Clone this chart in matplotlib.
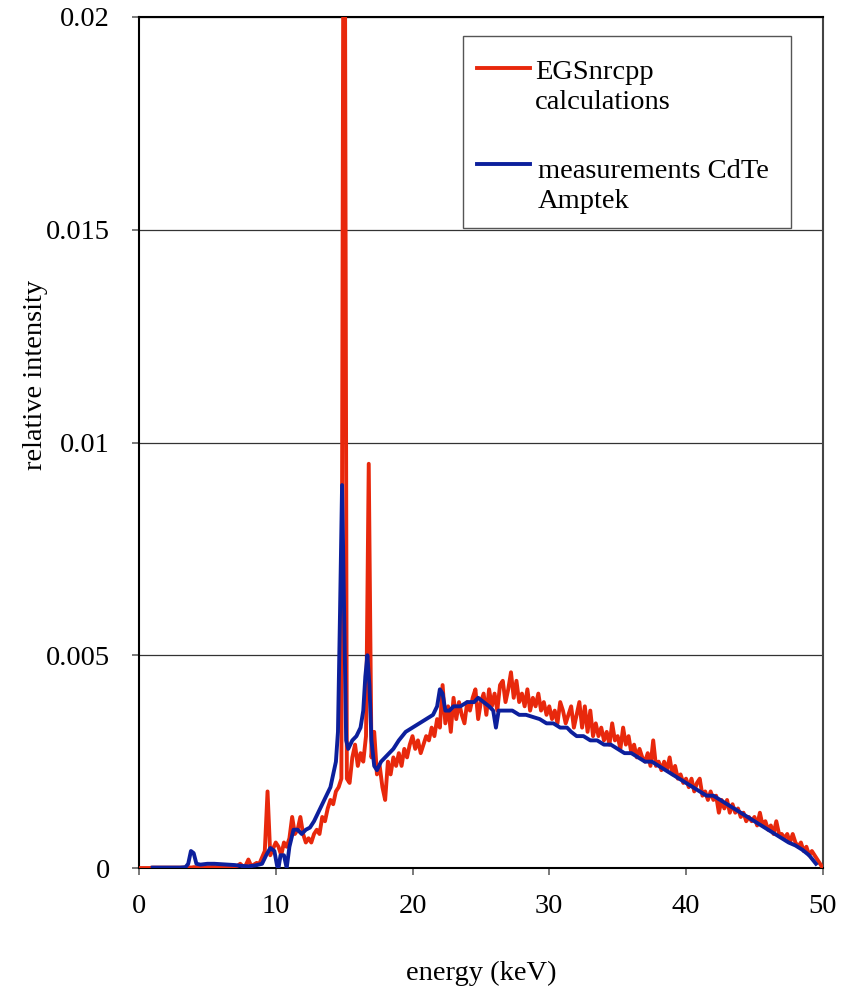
"""plot.py
--------
EGSnrcpp calculated spectrum vs. CdTe (Amptek) measurement
"""

import numpy as np
from matplotlib import pyplot as plt
from matplotlib.patches import Rectangle
from matplotlib.ticker import FixedLocator, FuncFormatter

plt.rcParams['font.family'] = ['Liberation Serif', 'DejaVu Serif']

# calculated spectrum, 0.2 keV channels from 0 to 50 keV (one row per keV)
calc_energy = np.round(np.arange(0, 50.01, 0.2), 1)
calc_intensity = [
    0, 0, 0, 0, 0,                                   # 0
    0.00001, 0.00001, 0.00001, 0.00001, 0.00001,     # 1
    0.00001, 0.00001, 0.00001, 0.00001, 0.00001,     # 2
    0.00001, 0.00001, 0.00001, 0.00002, 0.00001,     # 3
    0.00002, 0.00002, 0.00002, 0.00002, 0.00002,     # 4
    0.00002, 0.00002, 0.00003, 0.00002, 0.00003,     # 5
    0.00003, 0.00003, 0.00004, 0.00003, 0.00004,     # 6
    0.00003, 0.00005, 0.00010, 0.00004, 0.00006,     # 7
    0.00020, 0.00005, 0.00008, 0.00012, 0.00010,     # 8
    0.00025, 0.00040, 0.00180, 0.00030, 0.00045,     # 9
    0.00060, 0.00050, 0.00030, 0.00060, 0.00050,     # 10
    0.00070, 0.00120, 0.00080, 0.00090, 0.00120,     # 11
    0.00080, 0.00060, 0.00070, 0.00060, 0.00080,     # 12
    0.00090, 0.00080, 0.00120, 0.00110, 0.00140,     # 13
    0.00160, 0.00150, 0.00180, 0.00190, 0.00210,     # 14
    0.03000, 0.00210, 0.00200, 0.00260, 0.00290,     # 15
    0.00240, 0.00270, 0.00250, 0.00310, 0.00950,     # 16
    0.00260, 0.00320, 0.00220, 0.00240, 0.00190,     # 17
    0.00160, 0.00250, 0.00220, 0.00260, 0.00240,     # 18
    0.00270, 0.00240, 0.00280, 0.00260, 0.00290,     # 19
    0.00310, 0.00280, 0.00300, 0.00270, 0.00290,     # 20
    0.00310, 0.00300, 0.00330, 0.00310, 0.00350,     # 21
    0.00330, 0.00430, 0.00340, 0.00380, 0.00320,     # 22
    0.00400, 0.00350, 0.00390, 0.00360, 0.00340,     # 23
    0.00390, 0.00370, 0.00400, 0.00420, 0.00350,     # 24
    0.00390, 0.00410, 0.00360, 0.00420, 0.00380,     # 25
    0.00410, 0.00370, 0.00430, 0.00440, 0.00390,     # 26
    0.00420, 0.00460, 0.00400, 0.00440, 0.00390,     # 27
    0.00410, 0.00380, 0.00420, 0.00370, 0.00400,     # 28
    0.00380, 0.00410, 0.00370, 0.00390, 0.00360,     # 29
    0.00380, 0.00350, 0.00370, 0.00340, 0.00390,     # 30
    0.00370, 0.00340, 0.00360, 0.00380, 0.00330,     # 31
    0.00360, 0.00390, 0.00330, 0.00380, 0.00320,     # 32
    0.00370, 0.00310, 0.00340, 0.00310, 0.00330,     # 33
    0.00300, 0.00320, 0.00290, 0.00340, 0.00300,     # 34
    0.00310, 0.00280, 0.00330, 0.00290, 0.00310,     # 35
    0.00270, 0.00290, 0.00260, 0.00280, 0.00260,     # 36
    0.00250, 0.00270, 0.00240, 0.00300, 0.00240,     # 37
    0.00250, 0.00230, 0.00250, 0.00230, 0.00260,     # 38
    0.00220, 0.00240, 0.00210, 0.00220, 0.00200,     # 39
    0.00210, 0.00190, 0.00210, 0.00180, 0.00200,     # 40
    0.00210, 0.00170, 0.00180, 0.00160, 0.00180,     # 41
    0.00160, 0.00170, 0.00130, 0.00160, 0.00140,     # 42
    0.00160, 0.00130, 0.00150, 0.00130, 0.00140,     # 43
    0.00120, 0.00130, 0.00110, 0.00120, 0.00110,     # 44
    0.00120, 0.00100, 0.00130, 0.00100, 0.00110,     # 45
    0.00090, 0.00100, 0.00080, 0.00110, 0.00080,     # 46
    0.00080, 0.00070, 0.00080, 0.00060, 0.00080,     # 47
    0.00060, 0.00050, 0.00060, 0.00040, 0.00050,     # 48
    0.00030, 0.00040, 0.00030, 0.00020, 0.00010,     # 49
    0.0,                                             # 50
]

# measured spectrum (smooth), read at irregular energies
meas_energy = [
    1.0, 2.0, 3.0, 3.4, 3.6, 3.8, 4.0, 4.2, 4.5, 5.0, 5.5, 6.0, 6.5, 7.0,
    7.5, 8.0, 8.5, 9.0, 9.3, 9.6, 9.9, 10.1, 10.2, 10.35, 10.6, 10.8, 11.0,
    11.3, 11.6, 11.9, 12.2, 12.5, 12.8, 13.1, 13.4, 13.7, 14.0, 14.2, 14.4,
    14.55, 14.7, 14.85, 15.0, 15.15, 15.3, 15.6, 15.9, 16.2, 16.4, 16.55,
    16.7, 16.85, 17.0, 17.2, 17.4, 17.7, 18.0, 18.3, 18.6, 19.0, 19.5, 20.0,
    20.5, 21.0, 21.5, 21.8, 22.0, 22.2, 22.4, 22.7, 23.0, 23.5, 24.0, 24.5,
    24.8, 25.2, 25.6, 25.9, 26.1, 26.3, 26.8, 27.3, 27.8, 28.3, 28.8, 29.3,
    29.8, 30.3, 30.8, 31.3, 31.6, 32.0, 32.5, 33.0, 33.5, 34.0, 34.5, 35.0,
    35.5, 36.0, 36.5, 37.0, 37.5, 38.0, 38.5, 39.0, 39.5, 40.0, 40.5, 41.0,
    41.5, 42.0, 42.5, 43.0, 43.5, 44.0, 44.5, 45.0, 45.5, 46.0, 46.5, 47.0,
    47.5, 48.0, 48.5, 49.0, 49.5,
]
meas_intensity = [
    0.00001, 0.00001, 0.00001, 0.00002, 0.0001, 0.0004, 0.00035, 0.0001,
    0.00008, 0.0001, 0.0001, 0.00009, 0.00008, 0.00007, 0.00005, 0.00004,
    0.00006, 0.0001, 0.0003, 0.00047, 0.0004, 0.00005, 0.0, 0.0003, 0.0003,
    0.0, 0.0005, 0.0009, 0.0009, 0.0008, 0.0009, 0.00095, 0.0011, 0.0013,
    0.0015, 0.0017, 0.0019, 0.0022, 0.0025, 0.0032, 0.0060, 0.0090, 0.0060,
    0.0030, 0.0028, 0.0030, 0.0031, 0.0033, 0.0037, 0.0045, 0.0050, 0.0043,
    0.0030, 0.0024, 0.0023, 0.0025, 0.0026, 0.0027, 0.0028, 0.0030, 0.0032,
    0.0033, 0.0034, 0.0035, 0.0036, 0.0038, 0.0042, 0.0041, 0.0037, 0.0037,
    0.0038, 0.0038, 0.0039, 0.0039, 0.0040, 0.0039, 0.0038, 0.0037, 0.0033,
    0.0037, 0.0037, 0.0037, 0.0036, 0.0036, 0.00355, 0.0035, 0.0034, 0.0034,
    0.0033, 0.0033, 0.0032, 0.0031, 0.0031, 0.0030, 0.0030, 0.0029, 0.0029,
    0.0028, 0.0027, 0.0027, 0.0026, 0.0025, 0.0025, 0.0024, 0.0023, 0.0022,
    0.0021, 0.0020, 0.0019, 0.0018, 0.0017, 0.0017, 0.0016, 0.0015, 0.0014,
    0.0013, 0.0012, 0.0011, 0.0010, 0.0009, 0.0008, 0.0007, 0.0006, 0.00053,
    0.00043, 0.0003, 0.0001,
]

x_ticks = [0, 10, 20, 30, 40, 50]
y_ticks = [0, 0.005, 0.01, 0.015, 0.02]
calc_label = "EGSnrcpp\ncalculations"
meas_label = "measurements CdTe\nAmptek"

red = '#E8280C'
blue = '#0C1F9C'
fs = 20.5
lw = 2.8

fig = plt.figure(figsize=(8.5, 9.99), dpi=100)
ax = fig.add_axes([0.1635, 0.1311, 0.968 - 0.1635, 0.983 - 0.1311])

ax.plot(calc_energy, calc_intensity, color=red, lw=lw, zorder=3)
ax.plot(meas_energy, meas_intensity, color=blue, lw=lw, zorder=4)

ax.set_xlim(0, 50)
ax.set_ylim(0, 0.02)
ax.xaxis.set_major_locator(FixedLocator(x_ticks))
ax.yaxis.set_major_locator(FixedLocator(y_ticks))
ax.yaxis.set_major_formatter(FuncFormatter(lambda v, p: '%g' % v))
ax.yaxis.grid(True, color='#333333', lw=0.9)
ax.set_axisbelow(True)
ax.tick_params(axis='x', direction='out', length=5, width=1.1, color='#555555', pad=14, labelsize=fs)
ax.tick_params(axis='y', direction='out', length=5, width=1.1, color='#555555', pad=16, labelsize=fs)
for side in ['left', 'bottom', 'top']:
    ax.spines[side].set_linewidth(1.5)
    ax.spines[side].set_color('black')
ax.spines['right'].set_linewidth(1.5)
ax.spines['right'].set_color('#444444')

ax.set_xlabel("energy (keV)", fontsize=fs, va='top')
ax.xaxis.set_label_coords(0.5, -0.109)
ax.set_ylabel("relative intensity", fontsize=fs)
ax.yaxis.set_label_coords(-0.133, 0.579)

# legend box drawn by hand so handles sit on the first text line
ax.add_patch(Rectangle((0.4737, 0.7521), 0.4795, 0.2256, transform=ax.transAxes,
                       facecolor='white', edgecolor='#555555', lw=1.0, zorder=5))
ax.plot([0.494, 0.5716], [0.9401, 0.9401], transform=ax.transAxes, color=red, lw=lw, zorder=6)
ax.plot([0.494, 0.5716], [0.8273, 0.8273], transform=ax.transAxes, color=blue, lw=lw, zorder=6)
ax.text(0.579, 0.949, calc_label, transform=ax.transAxes, fontsize=fs, va='top', ha='left',
        linespacing=1.25, zorder=7)
ax.text(0.583, 0.833, meas_label, transform=ax.transAxes, fontsize=fs, va='top', ha='left',
        linespacing=1.25, zorder=7)

plt.savefig('out.png', dpi=100)
plt.close()
